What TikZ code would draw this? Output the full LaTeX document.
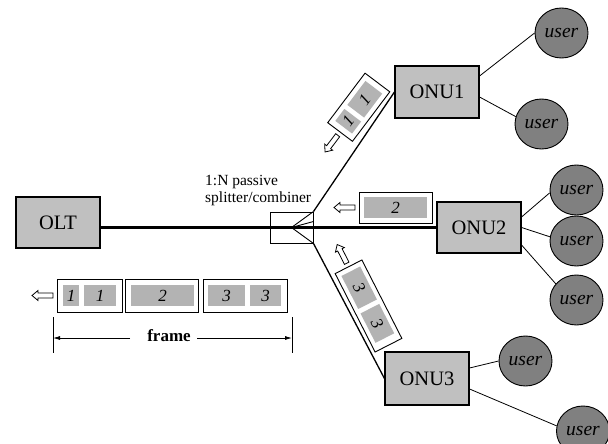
\documentclass[tikz,border=0pt]{standalone}
\usepackage{fontspec}
\setmainfont{Liberation Serif}
\usetikzlibrary{arrows.meta,shapes.geometric}
\definecolor{boxgray}{HTML}{C0C0C0}
\definecolor{cellgray}{HTML}{B3B3B3}
\definecolor{usergray}{HTML}{808080}
\newcommand\pktarrow[1]{\draw[openarrow] (#1,0) -- (#1,2.5) -- ({#1-15},2.5) -- ({#1-15},5) -- ({#1-21},0) -- ({#1-15},-5) -- ({#1-15},-2.5) -- (#1,-2.5) -- cycle;}
\begin{document}
\begin{tikzpicture}[x=1pt,y=-1pt,
  box/.style={draw, line width=1.1pt, fill=boxgray, minimum width=84pt, minimum height=52pt, inner sep=0pt, font=\fontsize{20.5}{24}\selectfont},
  user/.style={ellipse, draw, line width=0.9pt, fill=usergray, minimum width=53pt, minimum height=50pt, inner sep=0pt, font=\fontsize{19.5}{22}\selectfont\itshape},
  pkt/.style={draw, line width=0.9pt, fill=white, inner sep=0pt},
  cell/.style={fill=cellgray, inner sep=0pt, minimum height=21pt, font=\fontsize{17}{20}\selectfont\itshape},
  openarrow/.style={draw, line width=0.8pt, fill=white},
  link/.style={line width=0.8pt},
  dim/.style={line width=0.8pt}]
\useasboundingbox (0,0) rectangle (608,444);

% main boxes
\node[box, minimum height=51pt] (OLT) at (58,222.5) {OLT};
\node[box] (ONU1) at (437,92) {ONU1};
\node[box, minimum height=51pt] (ONU2) at (479,227.5) {ONU2};
\node[box, minimum height=53pt] (ONU3) at (427,378.5) {ONU3};
\node[draw, line width=1pt, minimum width=43pt, minimum height=31pt, inner sep=0pt] (split) at (291.5,227.5) {};

% fibres
\draw[line width=2.2pt] (OLT.east |- ONU2.west) -- (ONU2.west);
\draw[line width=1.3pt] (split.north east) -- (ONU1.west);
\draw[line width=1.3pt] (split.south east) -- (ONU3.west);
\draw[line width=0.9pt] (split.north east) -- (split.center) -- (split.south east);
\draw[line width=0.9pt] (split.center) -- ([yshift=6pt]split.east);

% splitter label
\node[anchor=base west, inner sep=0pt, font=\fontsize{15.5}{18}\selectfont] (lab1) at (205,185) {1:N passive};
\node[anchor=base west, inner sep=0pt, font=\fontsize{15.5}{18}\selectfont] (lab2) at (205,202.5) {splitter/combiner};

% users
\node[user] (u11) at (561.5,33) {user};
\node[user] (u12) at (541.5,124) {user};
\node[user] (u21) at (576.5,190) {user};
\node[user] (u22) at (576.5,241) {user};
\node[user] (u23) at (576.5,300) {user};
\node[user] (u31) at (525.5,361) {user};
\node[user] (u32) at (583,431) {user};

\draw[link] ([yshift=16pt]ONU1.east) -- (u11.west);
\draw[link] ([yshift=-5pt]ONU1.east) -- (u12.164);
\draw[link] ([yshift=10.5pt]ONU2.east) -- (u21.186);
\draw[link] (ONU2.east) -- (u22.171);
\draw[link] ([yshift=-17.5pt]ONU2.east) -- (u23.142);
\draw[link] ([yshift=10.5pt]ONU3.east) -- (u31.west);
\draw[link] ([yshift=-10.5pt]ONU3.east) -- (u32.169);

% upstream frame at the OLT
\begin{scope}[shift={(89.5,295.5)}]
  \node[pkt, minimum width=65pt, minimum height=33pt] (f1) at (0,0) {};
  \node[cell, minimum width=16pt] (f1a) at (-18.5,0) {1};
  \node[cell, minimum width=32pt] (f1b) at (10.5,0) {1};
  \pktarrow{-36.5}
\end{scope}
\begin{scope}[shift={(161.5,295.5)}]
  \node[pkt, minimum width=73pt, minimum height=33pt] (f2) at (0,0) {};
  \node[cell, minimum width=63pt] (f2a) at (1,0) {2};
\end{scope}
\begin{scope}[shift={(245,295.5)}]
  \node[pkt, minimum width=84pt, minimum height=33pt] (f3) at (0,0) {};
  \node[cell, minimum width=37pt] (f3a) at (-18.5,0) {3};
  \node[cell, minimum width=31pt] (f3b) at (20.5,0) {3};
\end{scope}

% frame dimension
\draw[dim] (53,317) -- (53,353);
\draw[dim] (292,317) -- (292,353);
\node[anchor=base, inner sep=0pt, font=\fontsize{17}{20}\selectfont\bfseries] (frametxt) at (169,341.7) {frame};
\coordinate (fl) at (53,338);
\coordinate (fr) at (292,338);
\coordinate (fla) at (130,338);
\coordinate (fra) at (197,338);
\draw[dim, -{Latex[length=7pt,width=4pt]}] (fla) -- (fl);
\draw[dim, -{Latex[length=7pt,width=4pt]}] (fra) -- (fr);

% packets on the branches
\begin{scope}[shift={(358.75,107.25)}, rotate=53, transform shape]
  \node[pkt, minimum width=62pt, minimum height=31pt] (p1) at (0,0) {};
  \node[cell, minimum width=15pt] (p1a) at (-17.5,0) {1};
  \node[cell, minimum width=30pt] (p1b) at (10,0) {1};
  \pktarrow{-35}
\end{scope}
\begin{scope}[shift={(395.5,207.5)}]
  \node[pkt, minimum width=73pt, minimum height=31pt] (p2) at (0,0) {};
  \node[cell, minimum width=63pt] (p2a) at (0,0) {2};
  \pktarrow{-40.5}
\end{scope}
\begin{scope}[shift={(368.5,306)}, rotate=-63, transform shape]
  \node[pkt, minimum width=88pt, minimum height=30pt] (p3) at (0,0) {};
  \node[cell, minimum width=37pt] (p3a) at (-20.5,0) {3};
  \node[cell, minimum width=33pt] (p3b) at (19.5,0) {3};
  \pktarrow{-48}
\end{scope}
\end{tikzpicture}
\end{document}
